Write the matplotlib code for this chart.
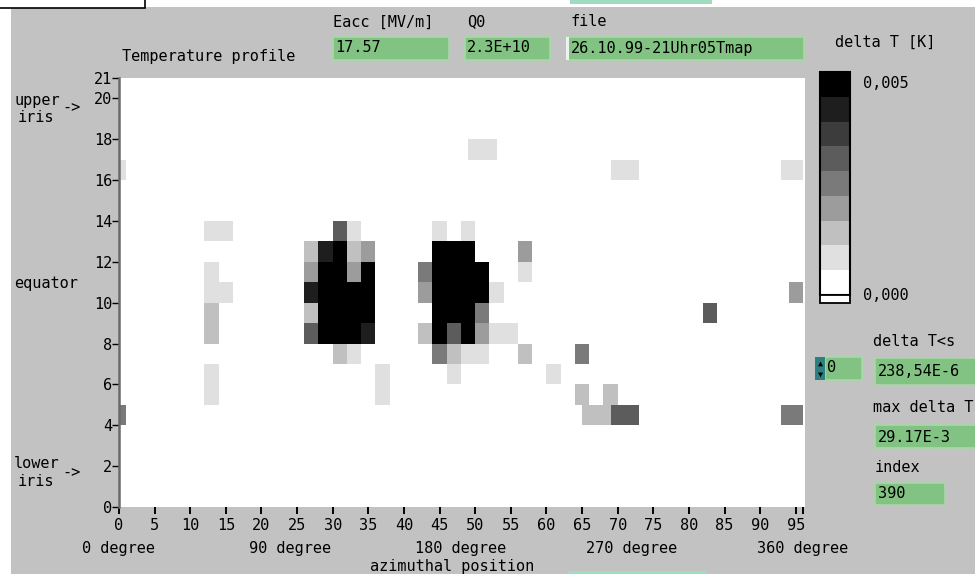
import numpy as np
import matplotlib
matplotlib.use("Agg")
import matplotlib.pyplot as plt
from matplotlib.colors import ListedColormap, BoundaryNorm
from matplotlib.patches import Rectangle

# ---- data: hot cells of the temperature map (x in azimuth units, row = sensor) ----
cell_x0 = [0, 0, 12, 12, 12, 12, 12, 12, 12,
           30, 32,
           26, 28, 30, 32, 34,
           26, 28, 32, 34,
           26, 28,
           26, 28,
           26, 28, 34,
           30, 32,
           36, 36,
           44, 48,
           44, 56,
           42, 44, 56,
           42, 44, 52,
           44, 50,
           42, 44, 46, 48, 50, 52,
           44, 46, 48, 56, 64,
           46, 60,
           64, 68,
           65, 69, 93,
           82, 94, 69, 93, 49]
cell_x1 = [1, 1, 16, 14, 16, 14, 14, 14, 14,
           32, 34,
           28, 30, 32, 34, 36,
           28, 32, 34, 36,
           28, 36,
           28, 36,
           28, 34, 36,
           32, 34,
           38, 38,
           46, 50,
           50, 58,
           44, 52, 58,
           44, 52, 54,
           50, 52,
           44, 46, 48, 50, 52, 56,
           46, 48, 52, 58, 66,
           48, 62,
           66, 70,
           69, 73, 96,
           84, 96, 73, 96, 53]
cell_row = [16, 4, 13, 11, 10, 9, 8, 6, 5,
            13, 13,
            12, 12, 12, 12, 12,
            11, 11, 11, 11,
            10, 10,
            9, 9,
            8, 8, 8,
            7, 7,
            6, 5,
            13, 13,
            12, 12,
            11, 11, 11,
            10, 10, 10,
            9, 9,
            8, 8, 8, 8, 8, 8,
            7, 7, 7, 7, 7,
            6, 6,
            5, 5,
            4, 4, 4,
            9, 10, 16, 16, 17]
cell_level = [1, 4, 1, 1, 1, 2, 2, 1, 1,
              5, 1,
              2, 7, 8, 2, 3,
              3, 8, 3, 8,
              7, 8,
              2, 8,
              5, 8, 7,
              2, 1,
              1, 1,
              1, 1,
              8, 3,
              4, 8, 1,
              3, 8, 1,
              8, 4,
              2, 8, 5, 8, 3, 1,
              4, 2, 1, 2, 4,
              1, 1,
              2, 2,
              2, 5, 4,
              5, 3, 1, 1, 1]

n_cols, n_rows = 96, 21
dT_max = 0.005
greys = ['#ffffff', '#e0e0e0', '#c0c0c0', '#9c9c9c', '#7a7a7a',
         '#5c5c5c', '#3c3c3c', '#1e1e1e', '#000000']

x_ticks = list(range(0, 96, 5)) + [96]
x_ticklabels = [str(v) for v in range(0, 96, 5)] + ['']
y_ticks = list(range(0, 21, 2)) + [21]
deg_pos = [0, 24, 48, 72, 96]
deg_labels = ['0 degree', '90 degree', '180 degree', '270 degree', '360 degree']

step = dT_max / 8
Z = np.zeros((n_rows, n_cols))
for x0, x1, r, lv in zip(cell_x0, cell_x1, cell_row, cell_level):
    Z[r, x0:x1] = lv * step

W, H = 975, 574
BG = '#c2c2c2'
GREEN = '#82c282'
MONO = 'DejaVu Sans Mono'
FS = 11

fig = plt.figure(figsize=(W / 100, H / 100), dpi=100)
fig.patch.set_facecolor('white')


def fx(x):
    return x / W


def fy(y):
    return 1 - y / H


def box(x0, y0, x1, y1, fc, ec='none', lw=0, z=1):
    fig.patches.append(Rectangle((fx(x0), fy(y1)), (x1 - x0) / W, (y1 - y0) / H,
                                 transform=fig.transFigure, facecolor=fc,
                                 edgecolor=ec, linewidth=lw, zorder=z))


def label(x, y, s, ha='left', size=FS, **kw):
    fig.text(fx(x), fy(y), s, ha=ha, va='center', family=MONO, size=size,
             zorder=8, **kw)


# panel background and frame bits
box(11, 7, 975, 574, BG, z=-5)
box(-2, -5, 145, 8, 'white', 'black', 1.2)
box(570, -2, 712, 4, '#a0dcc0')
box(568, 571, 707, 576, '#a0dcc0')

# main intensity graph
ax = fig.add_axes([fx(119), fy(507), (805 - 119) / W, (507 - 78) / H])
ax.set_zorder(5)
cmap = ListedColormap(greys)
norm = BoundaryNorm((np.arange(10) - 0.5) * step, ncolors=9)
mesh = ax.pcolormesh(np.arange(n_cols + 1), np.arange(n_rows + 1), Z,
                     cmap=cmap, norm=norm, antialiased=False, edgecolors='none')
ax.set_xlim(0, 96.3)
ax.set_ylim(0, 21)
ax.set_facecolor('white')
for s in ['top', 'right', 'bottom']:
    ax.spines[s].set_visible(False)
ax.spines['left'].set_color('#6a6a6a')
ax.spines['left'].set_linewidth(1.8)
ax.set_xticks(x_ticks)
ax.set_xticklabels(x_ticklabels)
ax.set_yticks(y_ticks)
ax.tick_params(axis='x', length=5, width=1.4, pad=3, labelsize=FS)
ax.tick_params(axis='y', length=5, width=1.0, pad=0, labelsize=FS)
for t in ax.get_xticklabels() + ax.get_yticklabels():
    t.set_family(MONO)

tr = ax.get_xaxis_transform()
for p, s in zip(deg_pos, deg_labels):
    ax.text(p, -0.097, s, transform=tr, ha='center', va='center',
            family=MONO, size=FS, clip_on=False)
label(452, 567, 'azimuthal position', ha='center')

# left annotations
label(14, 100, 'upper')
label(18, 118, 'iris')
label(62, 108, '->')
label(14, 283, 'equator')
label(14, 464, 'lower')
label(18, 481, 'iris')
label(62, 473, '->')

# header controls
label(122, 57, 'Temperature profile')
label(333, 22, 'Eacc [MV/m]')
label(467, 22, 'Q0')
label(570, 22, 'file')
box(333, 37, 449, 60, GREEN, '#a8d8a8', 1.2)
label(335, 48, '17.57')
box(465, 37, 550, 60, GREEN, '#a8d8a8', 1.2)
label(467, 48, '2.3E+10')
box(566, 37, 804, 60, GREEN, '#a8d8a8', 1.2)
box(566, 37, 569, 60, '#f0f0f0')
label(571, 48, '26.10.99-21Uhr05Tmap')

# colour scale
label(835, 42, 'delta T [K]')
cax = fig.add_axes([fx(820), fy(295), 30 / W, (295 - 72) / H])
cax.set_zorder(5)
cb = fig.colorbar(mesh, cax=cax, ticks=[])
cb.minorticks_off()
cax.tick_params(which='both', length=0, labelright=False)
cb.outline.set_edgecolor('black')
cb.outline.set_linewidth(1.5)
box(820, 295, 850, 303, 'white', 'black', 1.3, z=6)
label(863, 83, '0,005')
label(863, 296, '0,000')

# right-side indicators
box(815, 357, 825, 380, '#2d8080', z=2)
label(820, 363, '\u25b2', ha='center', size=6, color='black')
label(820, 374, '\u25bc', ha='center', size=6, color='black')
box(825, 357, 862, 380, GREEN, '#a8d8a8', 1.2)
label(827, 368, '0')

label(873, 342, 'delta T<s')
box(875, 358, 980, 385, GREEN, '#a8d8a8', 1.2)
label(878, 372, '238,54E-6')
label(873, 408, 'max delta T')
box(875, 425, 980, 448, GREEN, '#a8d8a8', 1.2)
label(878, 437, '29.17E-3')
label(875, 468, 'index')
box(875, 483, 945, 505, GREEN, '#a8d8a8', 1.2)
label(878, 494, '390')

fig.savefig('out.png', dpi=100, facecolor=fig.get_facecolor())
